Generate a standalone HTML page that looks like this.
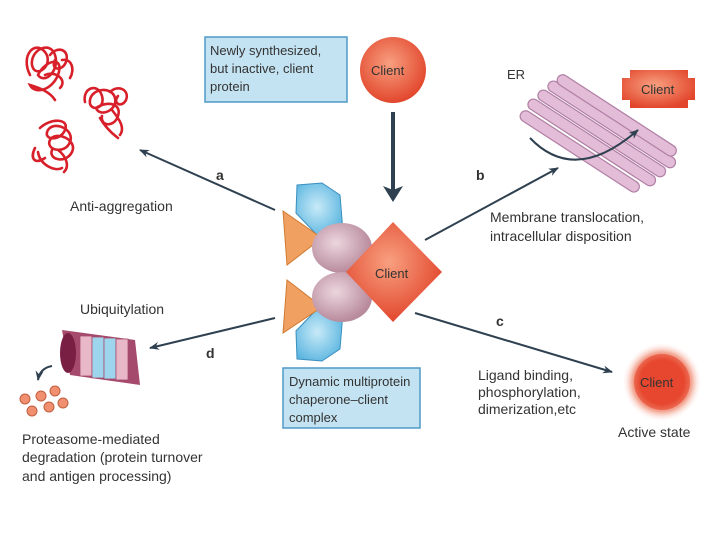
<!DOCTYPE html>
<html><head><meta charset="utf-8"><style>
html,body{margin:0;padding:0;background:#fff;width:720px;height:540px;overflow:hidden}
svg text{font-family:"Liberation Sans",sans-serif;fill:#333}
</style></head><body>
<svg width="720" height="540" viewBox="0 0 720 540" xmlns="http://www.w3.org/2000/svg">
<defs>
<radialGradient id="rg" cx="45%" cy="40%" r="60%"><stop offset="0" stop-color="#f8a080"/><stop offset="1" stop-color="#e2472d"/></radialGradient>
<radialGradient id="glow" cx="50%" cy="50%" r="50%"><stop offset="0.55" stop-color="#e8472e"/><stop offset="0.75" stop-color="#f08a70" stop-opacity="0.7"/><stop offset="1" stop-color="#fff" stop-opacity="0"/></radialGradient>
<radialGradient id="pg" cx="40%" cy="40%" r="60%"><stop offset="0" stop-color="#ecd6de"/><stop offset="1" stop-color="#b88a9c"/></radialGradient>
<radialGradient id="bg" cx="45%" cy="45%" r="60%"><stop offset="0" stop-color="#c8eaf8"/><stop offset="1" stop-color="#5db6e0"/></radialGradient>
<marker id="ah" markerWidth="10" markerHeight="8" refX="9" refY="4" orient="auto" markerUnits="userSpaceOnUse"><path d="M0,0 L10,4 L0,8 L3,4z" fill="#2f4150"/></marker>
</defs>
<!-- squiggles -->
<g fill="none" stroke="#d8202a" stroke-width="2.6" stroke-linecap="round">
<path d="M30,75 C20,55 35,40 45,52 C55,65 35,80 32,65 C30,50 50,40 55,55 C60,70 45,85 38,75 C45,60 65,55 58,75 C52,90 35,95 30,85 C40,88 50,92 55,100 M50,55 C58,45 70,50 66,62 C62,72 50,70 55,60 M45,75 C55,70 68,80 60,88 M62,60 C72,58 75,70 70,78"/>
<path d="M85,102 C82,88 98,82 102,96 C106,110 88,112 90,100 C92,88 112,86 115,98 C118,110 100,118 96,108 C108,100 122,104 118,116 C114,128 100,126 102,116 M110,92 C118,84 130,90 126,100 C122,108 112,104 118,96 M100,118 C104,125 110,132 118,138 M112,110 C120,120 125,128 120,135"/>
<path d="M40,128 C50,118 70,118 65,130 C60,142 42,140 48,130 C55,120 75,130 70,142 C65,155 45,150 50,140 C56,130 78,140 72,152 C66,164 48,160 52,150 M35,148 C30,158 34,165 45,158 M38,152 C40,165 55,172 62,168 M58,150 C66,156 70,166 64,172"/>
</g>
<text x="70" y="211" font-size="14">Anti-aggregation</text>
<!-- top box -->
<rect x="205" y="37" width="142" height="65" fill="#c4e3f2" stroke="#4f9ac7" stroke-width="1.5"/>
<text x="210" y="55" font-size="13">Newly synthesized,</text>
<text x="210" y="73" font-size="13">but inactive, client</text>
<text x="210" y="91" font-size="13">protein</text>
<circle cx="393" cy="70" r="33" fill="url(#rg)"/>
<text x="371" y="75" font-size="13">Client</text>
<line x1="393" y1="112" x2="393" y2="196" stroke="#2f4150" stroke-width="4"/>
<path d="M383,186 L393,202 L403,186 L393,190z" fill="#2f4150"/>
<!-- arrows -->
<g stroke="#2f4150" stroke-width="2" marker-end="url(#ah)">
<line x1="275" y1="210" x2="140" y2="150"/>
<line x1="425" y1="240" x2="558" y2="168"/>
<line x1="415" y1="313" x2="612" y2="372"/>
<line x1="275" y1="318" x2="150" y2="348"/>
</g>
<text x="216" y="180" font-size="14" font-weight="bold">a</text>
<text x="476" y="180" font-size="14" font-weight="bold">b</text>
<text x="496" y="326" font-size="14" font-weight="bold">c</text>
<text x="206" y="358" font-size="14" font-weight="bold">d</text>
<!-- ER -->
<g fill="#e3bcd8" stroke="#b07fa4" stroke-width="1.2">
<rect x="517" y="137" width="150" height="11" rx="5.5" transform="rotate(33 592 142)"/>
<rect x="527" y="128" width="150" height="11" rx="5.5" transform="rotate(33 602 133)"/>
<rect x="537" y="119" width="150" height="11" rx="5.5" transform="rotate(33 612 124)"/>
<rect x="547" y="110" width="140" height="11" rx="5.5" transform="rotate(33 617 115)"/>
<rect x="510" y="146" width="140" height="11" rx="5.5" transform="rotate(33 580 151)"/>
</g>
<path d="M530,138 Q575,185 638,130" fill="none" stroke="#2f4150" stroke-width="2" marker-end="url(#ah)"/>
<text x="507" y="79" font-size="13">ER</text>
<path d="M622,78 L630,78 L630,70 L688,70 L688,78 L695,78 L695,100 L688,100 L688,108 L630,108 L630,100 L622,100z" fill="url(#rg)"/>
<text x="641" y="94" font-size="13">Client</text>
<text x="490" y="222" font-size="14">Membrane translocation,</text>
<text x="490" y="241" font-size="14">intracellular disposition</text>
<!-- complex -->
<polygon points="297,185 322,183 340,195 343,232 318,236 296,213" fill="url(#bg)" stroke="#3a8fbf"/>
<polygon points="297,359 322,361 340,349 343,312 318,308 296,331" fill="url(#bg)" stroke="#3a8fbf"/>
<polygon points="283,211 322,238 287,265" fill="#f0a060" stroke="#d07a30"/>
<polygon points="287,280 322,307 283,333" fill="#f0a060" stroke="#d07a30"/>
<ellipse cx="342" cy="248" rx="30" ry="25" fill="url(#pg)"/>
<ellipse cx="342" cy="297" rx="30" ry="25" fill="url(#pg)"/>
<polygon points="393,222 442,272 393,322 346,272" fill="url(#rg)"/>
<text x="375" y="278" font-size="13">Client</text>
<!-- bottom box -->
<rect x="283" y="368" width="137" height="60" fill="#c4e3f2" stroke="#4f9ac7" stroke-width="1.5"/>
<text x="289" y="386" font-size="13">Dynamic multiprotein</text>
<text x="289" y="404" font-size="13">chaperone–client</text>
<text x="289" y="422" font-size="13">complex</text>
<!-- active -->
<circle cx="662" cy="382" r="40" fill="url(#glow)"/>
<circle cx="662" cy="382" r="28" fill="#e6472e" opacity="0.6"/>
<text x="640" y="387" font-size="13">Client</text>
<text x="478" y="380" font-size="14">Ligand binding,</text>
<text x="478" y="397" font-size="14">phosphorylation,</text>
<text x="478" y="414" font-size="14">dimerization,etc</text>
<text x="618" y="437" font-size="14">Active state</text>
<!-- proteasome -->
<text x="80" y="314" font-size="14">Ubiquitylation</text>
<path d="M62,330 L135,340 L140,385 L70,375z" fill="#a54a6c"/>
<ellipse cx="68" cy="353" rx="8" ry="20" fill="#7a1f44"/>
<g fill="#e8b8c8" stroke="#a54a6c" stroke-width="0.8">
<rect x="80" y="336" width="12" height="40"/><rect x="92" y="337" width="12" height="41" fill="#9dd6ec"/><rect x="104" y="338" width="12" height="41" fill="#9dd6ec"/><rect x="116" y="339" width="12" height="41"/>
</g>
<path d="M52,366 Q40,368 38,380" fill="none" stroke="#2f4150" stroke-width="2" marker-end="url(#ah)"/>
<g fill="#f09070" stroke="#c06040">
<circle cx="25" cy="399" r="5"/><circle cx="41" cy="396" r="5"/><circle cx="55" cy="391" r="5"/><circle cx="63" cy="403" r="5"/><circle cx="49" cy="407" r="5"/><circle cx="32" cy="411" r="5"/>
</g>
<text x="22" y="444" font-size="14">Proteasome-mediated</text>
<text x="22" y="462" font-size="14">degradation (protein turnover</text>
<text x="22" y="481" font-size="14">and antigen processing)</text>
</svg>
</body></html>
